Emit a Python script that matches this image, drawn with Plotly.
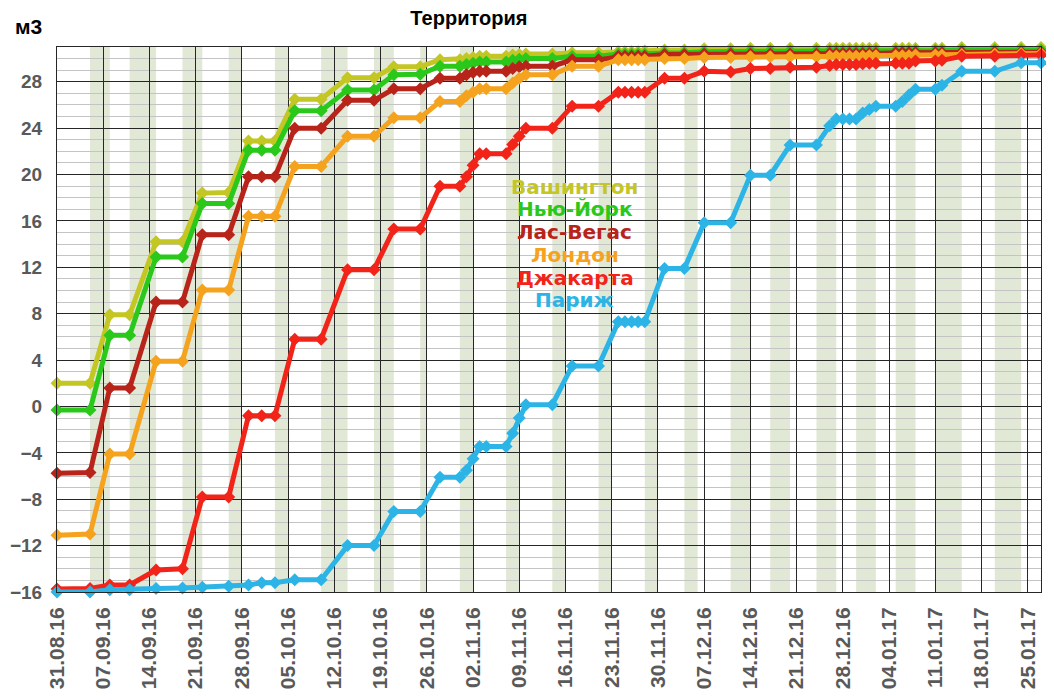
import plotly.graph_objs as go

# measurement dates (x axis)
dates = ['2016-08-31', '2016-09-05', '2016-09-08', '2016-09-11', '2016-09-15',
         '2016-09-19', '2016-09-22', '2016-09-26', '2016-09-29', '2016-10-01',
         '2016-10-03', '2016-10-06', '2016-10-10', '2016-10-14', '2016-10-18',
         '2016-10-21', '2016-10-25', '2016-10-28', '2016-10-31', '2016-11-01',
         '2016-11-02', '2016-11-03', '2016-11-04', '2016-11-07', '2016-11-08',
         '2016-11-09', '2016-11-10', '2016-11-14', '2016-11-17', '2016-11-21',
         '2016-11-24', '2016-11-25', '2016-11-26', '2016-11-27', '2016-11-28',
         '2016-12-01', '2016-12-04', '2016-12-07', '2016-12-11', '2016-12-14',
         '2016-12-17', '2016-12-20', '2016-12-24', '2016-12-26', '2016-12-27',
         '2016-12-28', '2016-12-29', '2016-12-30', '2016-12-31', '2017-01-01',
         '2017-01-02', '2017-01-05', '2017-01-06', '2017-01-07', '2017-01-08',
         '2017-01-11', '2017-01-12', '2017-01-15', '2017-01-20', '2017-01-24',
         '2017-01-27']

washington = [2.0, 2.0, 7.9, 7.9, 14.2, 14.2, 18.4, 18.45, 22.9, 22.9,
              22.9, 26.5, 26.5, 28.35, 28.35, 29.3, 29.3, 29.9, 29.9, 30.0,
              30.1, 30.2, 30.2, 30.2, 30.3, 30.35, 30.4, 30.4, 30.5, 30.5,
              30.6, 30.6, 30.6, 30.6, 30.65, 30.75, 30.75, 30.85, 30.85, 30.9,
              30.9, 30.9, 30.9, 30.9, 30.9, 30.9, 30.9, 30.9, 30.9, 30.9,
              30.9, 30.9, 30.9, 30.9, 30.9, 30.9, 30.9, 30.95, 30.95, 30.95,
              30.95]

new_york = [-0.3, -0.3, 6.15, 6.15, 12.9, 12.9, 17.5, 17.5, 22.1, 22.1,
            22.1, 25.5, 25.5, 27.3, 27.3, 28.6, 28.65, 29.35, 29.35, 29.5,
            29.6, 29.7, 29.7, 29.7, 29.85, 29.95, 30.0, 30.0, 30.2, 30.2,
            30.4, 30.4, 30.4, 30.4, 30.4, 30.5, 30.5, 30.6, 30.6, 30.65,
            30.65, 30.65, 30.65, 30.65, 30.65, 30.65, 30.65, 30.65, 30.65, 30.65,
            30.65, 30.65, 30.65, 30.65, 30.7, 30.7, 30.7, 30.75, 30.75, 30.75,
            30.75]

las_vegas = [-5.75, -5.7, 1.6, 1.6, 9.0, 9.0, 14.8, 14.8, 19.8, 19.8,
             19.8, 24.0, 24.0, 26.4, 26.4, 27.4, 27.4, 28.3, 28.3, 28.6,
             28.8, 28.9, 28.9, 28.9, 29.15, 29.3, 29.35, 29.35, 29.9, 29.9,
             30.2, 30.2, 30.2, 30.2, 30.2, 30.35, 30.35, 30.4, 30.4, 30.4,
             30.4, 30.4, 30.4, 30.45, 30.45, 30.45, 30.45, 30.45, 30.45, 30.45,
             30.45, 30.5, 30.5, 30.5, 30.5, 30.5, 30.5, 30.55, 30.55, 30.55,
             30.55]

london = [-11.1, -11.0, -4.1, -4.1, 3.9, 3.9, 10.05, 10.05, 16.4, 16.4,
          16.4, 20.7, 20.7, 23.3, 23.3, 24.9, 24.9, 26.3, 26.3, 26.8,
          27.1, 27.4, 27.4, 27.4, 27.9, 28.3, 28.6, 28.6, 29.35, 29.35,
          29.9, 29.9, 29.9, 29.9, 29.9, 30.0, 30.0, 30.1, 30.1, 30.15,
          30.15, 30.15, 30.15, 30.2, 30.2, 30.2, 30.2, 30.2, 30.2, 30.25,
          30.25, 30.25, 30.25, 30.25, 30.3, 30.3, 30.3, 30.35, 30.4, 30.45,
          30.45]

jakarta = [-15.75, -15.7, -15.4, -15.4, -14.1, -14.0, -7.8, -7.8, -0.8, -0.8,
           -0.8, 5.8, 5.8, 11.8, 11.8, 15.3, 15.3, 19.0, 19.0, 19.8,
           20.8, 21.8, 21.8, 21.8, 22.6, 23.3, 24.0, 24.0, 25.9, 25.9,
           27.1, 27.1, 27.1, 27.1, 27.1, 28.3, 28.3, 28.9, 28.85, 29.15,
           29.15, 29.25, 29.25, 29.4, 29.5, 29.5, 29.5, 29.5, 29.55, 29.6,
           29.6, 29.6, 29.6, 29.6, 29.8, 29.8, 29.85, 30.2, 30.2, 30.3,
           30.3]

paris = [-16.0, -16.0, -15.8, -15.8, -15.7, -15.65, -15.6, -15.5, -15.4, -15.2,
         -15.2, -14.95, -14.95, -12.0, -12.0, -9.05, -9.05, -6.1, -6.1, -5.5,
         -4.5, -3.45, -3.45, -3.45, -2.3, -1.0, 0.15, 0.15, 3.5, 3.5,
         7.3, 7.3, 7.3, 7.3, 7.3, 11.9, 11.9, 15.85, 15.85, 19.95,
         19.95, 22.55, 22.55, 24.2, 24.8, 24.8, 24.8, 24.8, 25.3, 25.6,
         25.9, 25.9, 26.3, 26.85, 27.35, 27.35, 27.7, 28.9, 28.9, 29.65,
         29.65]

names = ['Вашингтон', 'Нью-Йорк', 'Лас-Вегас', 'Лондон', 'Джакарта', 'Париж']
series = [washington, new_york, las_vegas, london, jakarta, paris]
colors = ['#c4c624', '#2bc81c', '#b8231a', '#f5a31e', '#f2241a', '#2db4e6']

# shaded day ranges (light green stripes)
band_start = ['2016-09-05', '2016-09-11', '2016-09-19', '2016-09-26', '2016-10-03',
              '2016-10-10', '2016-10-18', '2016-10-25', '2016-10-31', '2016-11-07',
              '2016-11-14', '2016-11-21', '2016-11-28', '2016-12-04', '2016-12-11',
              '2016-12-17', '2016-12-24', '2016-12-30', '2017-01-05', '2017-01-11',
              '2017-01-20']
band_end = ['2016-09-08', '2016-09-15', '2016-09-22', '2016-09-28', '2016-10-05',
            '2016-10-14', '2016-10-21', '2016-10-26', '2016-11-02', '2016-11-09',
            '2016-11-16', '2016-11-23', '2016-11-30', '2016-12-06', '2016-12-14',
            '2016-12-20', '2016-12-27', '2017-01-02', '2017-01-08', '2017-01-15',
            '2017-01-24']

font_fam = 'Liberation Sans, Arial, sans-serif'
legend_fam = 'DejaVu Sans, Verdana, sans-serif'

data = []
for name, vals, col in zip(names, series, colors):
    data.append(go.Scatter(
        x=dates,
        y=vals,
        mode='lines+markers',
        name=name,
        line=dict(color=col, width=5),
        marker=dict(symbol='diamond', size=10, color=col),
        cliponaxis=False
    ))

shapes = []
for s, e in zip(band_start, band_end):
    shapes.append(dict(type='rect', xref='x', yref='paper', x0=s, x1=e, y0=0, y1=1,
                       fillcolor='#e1e9d6', line=dict(width=0), layer='below'))

# coloured names used as the legend
annotations = []
for i, (name, col) in enumerate(zip(names, colors)):
    annotations.append(dict(xref='paper', yref='paper', x=0.526, y=0.744 - i * 0.0418,
                            text=name, showarrow=False, xanchor='center', yanchor='middle',
                            borderpad=0,
                            font=dict(family=legend_fam, size=20, color=col, weight='bold')))

annotations.append(dict(xref='paper', yref='paper', x=-0.029, y=1.037, text='м3',
                        showarrow=False, xanchor='center', yanchor='middle',
                        font=dict(family=font_fam, size=21, color='black', weight='bold')))

# the page body keeps an 8px margin, so the figure is a bit smaller than the window
layout = go.Layout(
    width=1038,
    height=684,
    margin=dict(l=49, r=5, t=39, b=100),
    paper_bgcolor='white',
    plot_bgcolor='white',
    showlegend=False,
    font=dict(family=font_fam),
    title=dict(text='Территория', x=0.444, xanchor='center', y=0.985, yanchor='middle',
               font=dict(family=font_fam, size=20, color='black', weight='bold')),
    xaxis=dict(
        type='date',
        range=['2016-08-31', '2017-01-27'],
        tick0='2016-08-31',
        dtick=7 * 86400000,
        tickformat='%d.%m.%y',
        tickangle=-90,
        tickfont=dict(size=21, color='#595959', weight='bold'),
        ticklabelstandoff=6,
        automargin=False,
        showgrid=True,
        gridcolor='#262626',
        gridwidth=1,
        showline=True,
        linecolor='#262626',
        mirror=True,
        zeroline=False
    ),
    yaxis=dict(
        range=[-16, 31],
        tick0=-16,
        dtick=4,
        tickfont=dict(size=19, color='#595959', weight='bold'),
        ticklabelstandoff=10,
        automargin=False,
        showgrid=True,
        gridcolor='#262626',
        gridwidth=1,
        minor=dict(dtick=1, showgrid=True, gridcolor='#c4c4c4', gridwidth=1),
        showline=True,
        linecolor='#262626',
        mirror=True,
        zeroline=False
    ),
    shapes=shapes,
    annotations=annotations
)

fig = go.Figure(data=data, layout=layout)
fig.write_html("out.html")
